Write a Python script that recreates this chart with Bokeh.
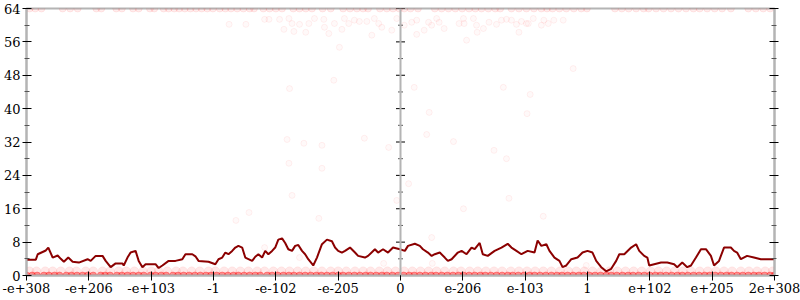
from bokeh.plotting import figure
from bokeh.models import Range1d, FixedTicker, Span, LinearAxis
from bokeh.embed import file_html
from bokeh.resources import INLINE

# ---------------- data ----------------
tick_pos = [-6, -5, -4, -3, -2, -1, 0, 1, 2, 3, 4, 5, 6]
tick_labels = ["-e+308", "-e+206", "-e+103", "-1", "-e-102", "-e-205", "0",
               "e-206", "e-103", "1", "e+102", "e+205", "2e+308"]
y_ticks = [0, 8, 16, 24, 32, 40, 48, 56, 64]
y_minor = [4, 12, 20, 28, 36, 44, 52, 60]

# running average line
avg_x = [-6.0, -5.85, -5.82, -5.69, -5.65, -5.58, -5.50, -5.45, -5.40, -5.33, -5.26, -5.16,
         -5.02, -4.97, -4.89, -4.78, -4.73, -4.65, -4.57, -4.46, -4.44, -4.38, -4.33, -4.25,
         -4.20, -4.14, -4.09, -3.93, -3.88, -3.82, -3.72, -3.61, -3.50, -3.45, -3.34, -3.29,
         -3.24, -3.08, -2.97, -2.92, -2.86, -2.81, -2.76, -2.70, -2.65, -2.60, -2.54, -2.49,
         -2.38, -2.33, -2.28, -2.22, -2.17, -2.12, -2.06, -2.01, -1.96, -1.90, -1.85, -1.80,
         -1.74, -1.69, -1.64, -1.58, -1.53, -1.48, -1.40, -1.34, -1.26, -1.18, -1.10, -1.05,
         -1.00, -0.94, -0.89, -0.81, -0.73, -0.68, -0.57, -0.52, -0.41, -0.36, -0.28, -0.20,
         -0.12, -0.01, 0.07, 0.12, 0.23, 0.31, 0.36, 0.44, 0.50, 0.55, 0.63, 0.71, 0.76, 0.82,
         0.92, 0.98, 1.06, 1.14, 1.19, 1.27, 1.32, 1.40, 1.51, 1.62, 1.72, 1.78, 1.86, 1.94,
         2.04, 2.15, 2.20, 2.26, 2.34, 2.39, 2.47, 2.55, 2.60, 2.66, 2.74, 2.84, 2.92, 3.00,
         3.08, 3.14, 3.22, 3.30, 3.38, 3.46, 3.51, 3.59, 3.70, 3.78, 3.83, 3.91, 3.96, 3.99,
         4.07, 4.18, 4.28, 4.39, 4.44, 4.52, 4.60, 4.66, 4.74, 4.82, 4.90, 4.98, 5.03, 5.11,
         5.19, 5.30, 5.35, 5.40, 5.46, 5.56, 5.67, 5.78, 6.0]
avg_y = [3.8, 3.8, 5.1, 6.0, 6.7, 4.3, 4.8, 4.0, 3.3, 4.3, 3.3, 3.1,
         3.9, 3.5, 4.7, 4.7, 3.5, 2.0, 2.9, 2.9, 2.4, 4.3, 5.5, 5.9,
         3.5, 2.0, 2.7, 2.7, 1.8, 2.4, 3.5, 3.5, 3.9, 5.1, 5.1, 4.6,
         3.5, 3.3, 2.7, 3.9, 4.3, 5.5, 5.1, 5.9, 6.7, 7.1, 6.7, 4.3,
         3.5, 4.5, 5.1, 4.3, 5.9, 5.1, 5.9, 6.7, 8.6, 8.9, 7.8, 6.3,
         5.9, 7.1, 7.3, 5.9, 5.1, 3.9, 2.4, 4.3, 7.5, 8.6, 8.2, 6.7,
         5.9, 5.5, 5.9, 6.7, 5.5, 4.7, 4.3, 4.7, 6.3, 5.5, 6.3, 5.5,
         6.7, 6.3, 5.9, 7.1, 7.6, 7.1, 6.3, 5.5, 4.7, 5.1, 5.5, 4.3, 3.5, 3.9,
         5.5, 5.9, 5.1, 6.7, 6.3, 7.8, 5.1, 4.7, 5.9, 6.7, 7.6, 6.7, 5.9, 5.1,
         5.9, 5.5, 8.4, 7.1, 7.5, 5.9, 4.3, 3.5, 2.0, 2.4, 3.9, 4.3, 5.5, 5.9,
         5.5, 3.5, 2.0, 1.0, 1.6, 3.5, 5.1, 5.1, 6.7, 7.5, 5.9, 4.7, 4.3, 2.4,
         2.7, 3.1, 3.1, 2.7, 2.0, 3.1, 2.0, 2.4, 4.3, 6.3, 6.3, 4.7, 2.4, 3.5,
         6.7, 6.7, 5.9, 5.5, 3.9, 4.7, 4.3, 3.9, 3.9]

# samples at value 0
zero_x = [-6.0, -5.91, -5.83, -5.72, -5.64, -5.55, -5.47, -5.36, -5.28, -5.19, -5.1, -5.02,
          -4.93, -4.81, -4.74, -4.66, -4.55, -4.47, -4.38, -4.29, -4.2, -4.12, -4.01, -3.93,
          -3.84, -3.76, -3.65, -3.57, -3.48, -3.39, -3.3, -3.21, -3.12, -3.04, -2.95, -2.86,
          -2.77, -2.68, -2.6, -2.51, -2.42, -2.33, -2.25, -2.14, -2.06, -1.97, -1.88, -1.79,
          -1.71, -1.62, -1.53, -1.44, -1.35, -1.27, -1.18, -1.09, -1.0, -0.92, -0.83, -0.74,
          -0.65, -0.56, -0.48, -0.39, -0.3, -0.22, -0.13, -0.04, 0.05, 0.14, 0.22, 0.31, 0.4,
          0.49, 0.57, 0.66, 0.75, 0.84, 0.93, 1.01, 1.1, 1.19, 1.28, 1.36, 1.45, 1.54, 1.63,
          1.72, 1.8, 1.89, 1.98, 2.07, 2.15, 2.24, 2.33, 2.42, 2.51, 2.59, 2.68, 2.77, 2.86,
          2.94, 3.03, 3.12, 3.21, 3.3, 3.38, 3.47, 3.56, 3.65, 3.73, 3.82, 3.91, 4.0, 4.09,
          4.17, 4.26, 4.35, 4.44, 4.52, 4.61, 4.7, 4.79, 4.88, 4.96, 5.05, 5.14, 5.23, 5.31,
          5.4, 5.49, 5.58, 5.67, 5.75, 5.84, 5.93, 6.0]
zero_y = [0] * len(zero_x)

# samples at value 1
one_x = [-5.95, -5.84, -5.7, -5.58, -5.45, -5.31, -5.2, -5.05, -4.93, -4.78, -4.66, -4.52,
         -4.4, -4.27, -4.13, -4.0, -3.88, -3.74, -3.6, -3.49, -3.35, -3.22, -3.08, -2.97,
         -2.83, -2.7, -2.57, -2.44, -2.3, -2.18, -2.04, -1.91, -1.78, -1.65, -1.52, -1.39,
         -1.26, -1.12, -1.0, -0.87, -0.73, -0.6, -0.48, -0.34, -0.21, -0.08, 0.06, 0.19,
         0.32, 0.45, 0.58, 0.71, 0.85, 0.97, 1.11, 1.24, 1.37, 1.5, 1.63, 1.77, 1.9, 2.03,
         2.16, 2.29, 2.42, 2.56, 2.69, 2.82, 2.95, 3.08, 3.22, 3.35, 3.48, 3.61, 3.74, 3.87,
         4.01, 4.14, 4.27, 4.4, 4.53, 4.66, 4.8, 4.93, 5.06, 5.19, 5.32, 5.46, 5.59, 5.72,
         5.85, 5.97]
one_y = [1] * len(one_x)

# samples at value 64
top_x = [-5.95, -5.86, -5.76, -5.42, -5.3, -5.18, -4.88, -4.8, -4.56, -4.47, -4.29, -4.2,
         -4.02, -3.95, -3.8, -3.72, -3.63, -3.55, -3.46, -3.37, -3.28, -3.19, -3.1, -3.01,
         -2.9, -2.81, -2.72, -2.62, -2.52, -2.42, -2.35, -2.2, -2.1, -2.0, -1.9, -1.72,
         -1.62, -1.52, -1.42, -1.25, -1.12, -0.92, -0.81, -0.7, -0.6, -0.52, -0.33, -0.22,
         -0.12, -0.02, 0.06, 0.16, 0.28, 0.55, 0.66, 0.77, 0.88, 0.99, 1.1, 1.2, 1.3, 1.41,
         1.52, 1.6, 1.78, 1.9, 2.02, 2.14, 2.26, 2.35, 2.44, 2.55, 2.66, 2.78, 2.9, 2.99,
         3.44, 3.55, 3.66, 3.78, 3.9, 3.98, 4.1, 4.22, 4.34, 4.46, 4.58, 4.7, 4.8, 4.92,
         5.04, 5.16, 5.3, 5.58, 5.7, 5.82, 5.93]
top_y = [64] * len(top_x)

# remaining scattered samples
other_x = [-2.75, -2.48, -2.18, -2.11, -1.94, -1.87, -1.79, -1.74, -1.71, -1.62, -1.52, -1.47,
           -1.38, -1.23, -1.22, -1.15, -1.06, -0.98, -0.94, -0.90, -0.83, -0.74, -0.66, -0.54,
           -0.46, -0.42, -0.35, -0.30, -0.14, -0.06, 0.06, 0.18, 0.26, 0.26, 0.38, 0.45, 0.50,
           0.58, 0.62, 0.70, 0.94, 1.01, 1.02, 1.06, 1.17, 1.22, 1.23, 1.33, 1.42, 1.54, 1.62,
           1.70, 1.78, 1.86, 1.90, 1.94, 2.02, 2.05, 2.13, 2.26, 2.30, 2.37, 2.46, 2.61,
           -1.78, -1.07, -1.82, -1.55, -1.26, -0.58, -0.19, 2.77, 0.22, 1.65, 2.08, 0.46, 2.03,
           0.42, 0.85, 1.50, -1.79, -1.26, -1.74, -2.43, -2.64, -1.31, -0.06, -2.18, -1.62,
           -0.27, 1.70, 0.13, 1.74, 1.01, 2.29, 0.50, 0.51, 2.98]
other_y = [60.2, 60.2, 61.4, 61.4, 61.4, 59.0, 61.6, 60.4, 58.5, 60.2, 58.3, 60.4,
           61.6, 61.4, 59.5, 58.0, 60.4, 54.7, 59.0, 61.6, 60.4, 61.2, 60.9, 60.9,
           57.6, 61.6, 60.4, 59.5, 58.8, 61.6, 60.0, 60.7, 61.2, 57.8, 58.8, 60.7, 60.0,
           61.6, 60.7, 59.2, 60.4, 61.6, 60.4, 56.4, 61.6, 60.0, 58.3, 59.2, 60.7, 60.2, 61.2,
           61.4, 61.2, 60.2, 58.3, 60.9, 60.4, 60.4, 61.6, 60.0, 61.2, 60.4, 61.2, 61.2,
           44.8, 46.8, 32.6, 31.7, 31.2, 32.9, 30.7, 49.6, 45.1, 45.1, 43.4, 39.1, 38.8,
           33.8, 32.1, 30.0, 26.9, 25.7, 19.2, 15.1, 13.2, 13.7, 18.0, 6.7, 4.3,
           2.9, 28.0, 22.0, 18.5, 16.0, 14.2, 9.1, 2.9, 2.4]

# ---------------- figure ----------------
GRAY = "#b4b4b4"
p = figure(width=800, height=300, output_backend="svg", toolbar_location=None,
           x_range=Range1d(-6, 6), y_range=Range1d(0, 64),
           min_border_left=24, min_border_right=26, min_border_top=8, min_border_bottom=25,
           y_axis_location=None, x_axis_location=None)
p.xgrid.visible = False
p.ygrid.visible = False
p.outline_line_color = GRAY
p.outline_line_width = 2
p.background_fill_color = "white"
p.border_fill_color = "white"

FONT = "DejaVu Serif"

xax = LinearAxis(ticker=FixedTicker(ticks=tick_pos),
                 major_label_overrides={t: l for t, l in zip(tick_pos, tick_labels)})
xax.axis_line_color = GRAY
xax.axis_line_width = 2
xax.major_tick_line_color = "black"
xax.major_tick_in = 4
xax.major_tick_out = 5
xax.minor_tick_line_color = None
xax.major_label_text_font = FONT
xax.major_label_text_font_size = "13px"
xax.major_label_text_color = "black"
xax.major_label_standoff = 2
p.add_layout(xax, "below")

yax = LinearAxis(ticker=FixedTicker(ticks=y_ticks, minor_ticks=y_minor))
yax.axis_line_color = GRAY
yax.axis_line_width = 2
yax.major_tick_line_color = "black"
yax.major_tick_in = 5
yax.major_tick_out = 4
yax.minor_tick_line_color = "#555555"
yax.minor_tick_in = 3
yax.minor_tick_out = 2
yax.major_label_text_font = FONT
yax.major_label_text_font_size = "13px"
yax.major_label_text_color = "black"
yax.major_label_standoff = 2
p.add_layout(yax, "left")

rax = LinearAxis(ticker=FixedTicker(ticks=y_ticks, minor_ticks=y_minor))
rax.axis_line_color = GRAY
rax.axis_line_width = 2
rax.major_tick_line_color = "black"
rax.major_tick_in = 5
rax.major_tick_out = 4
rax.minor_tick_line_color = "#555555"
rax.minor_tick_in = 3
rax.minor_tick_out = 2
rax.major_label_text_font_size = "0px"
rax.major_label_text_color = None
p.add_layout(rax, "right")

# middle axis at x=0
p.add_layout(Span(location=0, dimension="height", line_color=GRAY, line_width=2))
p.scatter([0] * len(y_ticks), y_ticks, marker="dash", size=9, line_color="black", line_width=1)
p.scatter([0] * len(y_minor), y_minor, marker="dash", size=5, line_color="#555555", line_width=1)

# samples
p.scatter(top_x, top_y, size=7, fill_color="red", fill_alpha=0.07, line_color="red", line_alpha=0.08)
p.scatter(other_x, other_y, size=6, fill_color="red", fill_alpha=0.025, line_color="red", line_alpha=0.06)
p.scatter(one_x, one_y, size=9, fill_color="red", fill_alpha=0.09, line_color="red", line_alpha=0.05)
p.scatter(zero_x, zero_y, size=7, fill_color="red", fill_alpha=0.4, line_color="red", line_alpha=0.3)

# running average
p.line(avg_x, avg_y, line_color="#8b0000", line_width=2)

open("out.html", "w").write(file_html(p, INLINE))
